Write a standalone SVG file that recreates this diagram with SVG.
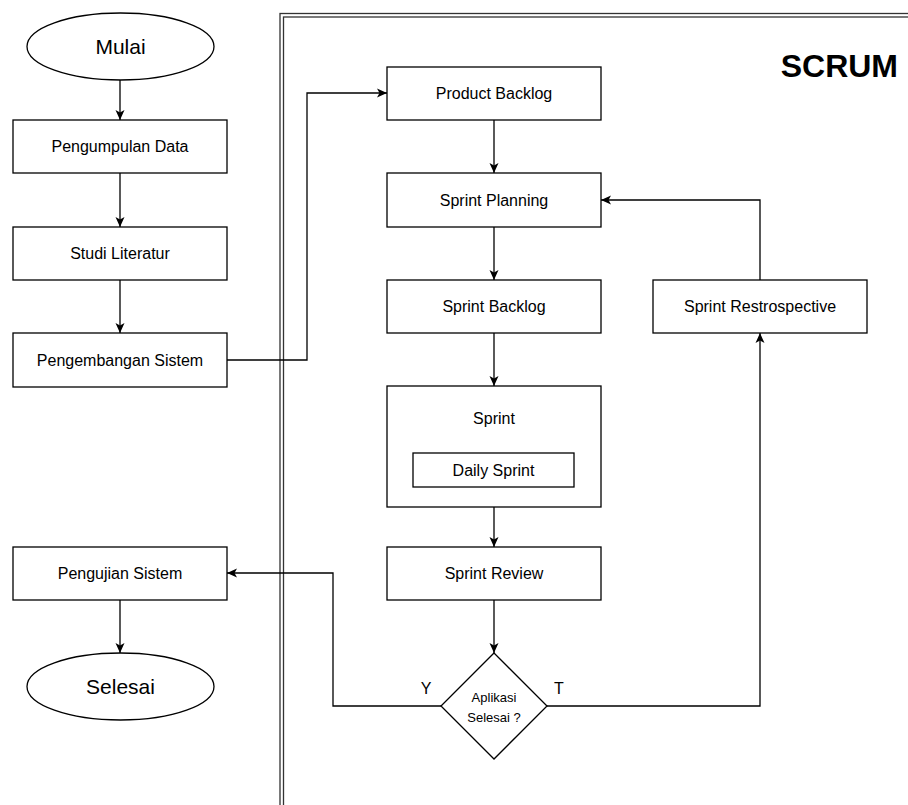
<svg xmlns="http://www.w3.org/2000/svg" width="908" height="805" viewBox="0 0 908 805">
<style>
.box{fill:#fff;stroke:#000;stroke-width:1.3}
.t{font-family:"Liberation Sans",Arial,sans-serif;font-size:16px;fill:#000;text-anchor:middle;dominant-baseline:central}
.c{fill:none;stroke:#000;stroke-width:1.3}
.frame{fill:none;stroke:#333;stroke-width:1.3}
</style>
<defs>
<marker id="arr" markerUnits="userSpaceOnUse" markerWidth="12" markerHeight="10" refX="10" refY="5" orient="auto">
<path d="M0,0.5 L10,5 L0,9.5 L2.5,5 z" fill="#000"/>
</marker>
</defs>
<g id="scrum-frame">
<rect class="frame" x="280" y="13.5" width="700" height="850"/>
<rect class="frame" x="283.5" y="17" width="700" height="850"/>
<text x="898" y="66" class="t" style="font-size:32px;font-weight:bold;text-anchor:end">SCRUM</text>
</g>
<g id="connectors">
<path class="c" d="M120,80 V120" marker-end="url(#arr)"/>
<path class="c" d="M120,173 V227" marker-end="url(#arr)"/>
<path class="c" d="M120,280 V333" marker-end="url(#arr)"/>
<path class="c" d="M227,360 H307 V93 H387" marker-end="url(#arr)"/>
<path class="c" d="M494,120 V173" marker-end="url(#arr)"/>
<path class="c" d="M494,227 V280" marker-end="url(#arr)"/>
<path class="c" d="M494,333 V386" marker-end="url(#arr)"/>
<path class="c" d="M494,507 V547" marker-end="url(#arr)"/>
<path class="c" d="M494,600 V653" marker-end="url(#arr)"/>
<path class="c" d="M441,706 H333 V573 H227" marker-end="url(#arr)"/>
<path class="c" d="M547,706 H760 V333" marker-end="url(#arr)"/>
<path class="c" d="M760,280 V200 H601" marker-end="url(#arr)"/>
<path class="c" d="M120,600 V653" marker-end="url(#arr)"/>
<text x="426" y="688" class="t">Y</text>
<text x="559" y="688" class="t">T</text>
</g>
<g id="mulai">
<ellipse class="box" cx="120.5" cy="46.5" rx="93.5" ry="33.5"/>
<text x="120.5" y="46.5" class="t" style="font-size:21px">Mulai</text>
</g>
<g id="pengumpulan-data">
<rect class="box" x="13" y="120" width="214" height="53"/>
<text x="120" y="146.5" class="t">Pengumpulan Data</text>
</g>
<g id="studi-literatur">
<rect class="box" x="13" y="227" width="214" height="53"/>
<text x="120" y="253.5" class="t">Studi Literatur</text>
</g>
<g id="pengembangan-sistem">
<rect class="box" x="13" y="333" width="214" height="54"/>
<text x="120" y="360" class="t">Pengembangan Sistem</text>
</g>
<g id="pengujian-sistem">
<rect class="box" x="13" y="547" width="214" height="53"/>
<text x="120" y="573.5" class="t">Pengujian Sistem</text>
</g>
<g id="selesai">
<ellipse class="box" cx="120.5" cy="686.5" rx="93.5" ry="33.5"/>
<text x="120.5" y="686.5" class="t" style="font-size:21px">Selesai</text>
</g>
<g id="product-backlog">
<rect class="box" x="387" y="67" width="214" height="53"/>
<text x="494" y="93.5" class="t">Product Backlog</text>
</g>
<g id="sprint-planning">
<rect class="box" x="387" y="173" width="214" height="54"/>
<text x="494" y="200" class="t">Sprint Planning</text>
</g>
<g id="sprint-backlog">
<rect class="box" x="387" y="280" width="214" height="53"/>
<text x="494" y="306.5" class="t">Sprint Backlog</text>
</g>
<g id="sprint">
<rect class="box" x="387" y="386" width="214" height="121"/>
<text x="494" y="418" class="t">Sprint</text>
</g>
<g id="daily-sprint">
<rect class="box" x="413" y="453" width="161" height="34"/>
<text x="493.5" y="470" class="t">Daily Sprint</text>
</g>
<g id="sprint-review">
<rect class="box" x="387" y="547" width="214" height="53"/>
<text x="494" y="573.5" class="t">Sprint Review</text>
</g>
<g id="aplikasi-selesai">
<polygon class="box" points="494,653 547,706 494,759 441,706"/>
<text x="494" y="697" class="t" style="font-size:13px">Aplikasi</text>
<text x="494" y="717" class="t" style="font-size:13px">Selesai ?</text>
</g>
<g id="sprint-restrospective">
<rect class="box" x="653" y="280" width="214" height="53"/>
<text x="760" y="306.5" class="t">Sprint Restrospective</text>
</g>
</svg>
